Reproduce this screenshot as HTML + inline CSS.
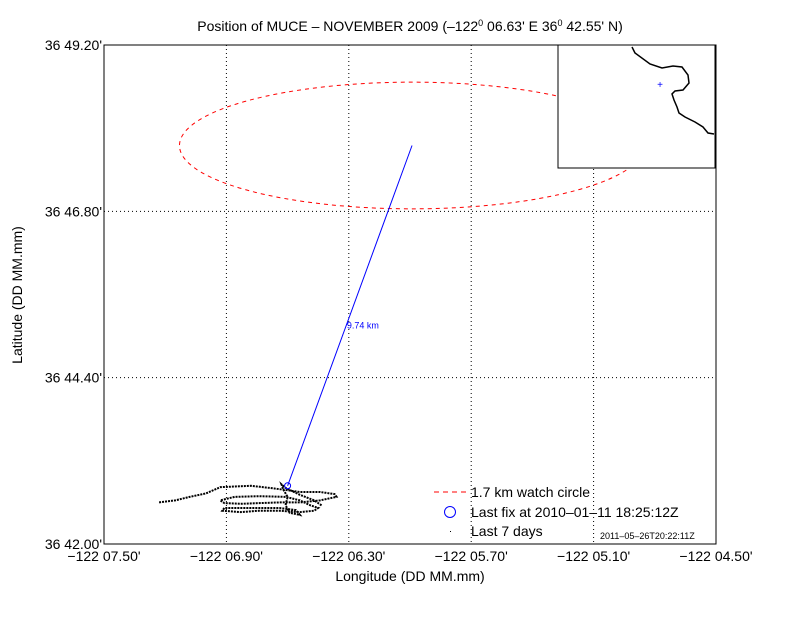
<!DOCTYPE html>
<html><head><meta charset="utf-8"><style>
body{margin:0;background:#fff}
svg{font-family:"Liberation Sans",Arial,sans-serif}
</style></head><body>
<svg id="chart" width="792" height="612" viewBox="0 0 792 612">
<rect width="792" height="612" fill="#fff"/>
<g id="grid"></g>
<g id="marks"></g>
<rect x="104" y="45" width="612" height="499" fill="none" stroke="#000"/>
<g id="ticks"></g>
<text x="410" y="31" text-anchor="middle" font-size="14">Position of MUCE – NOVEMBER 2009 (–122<tspan dy="-5" font-size="9">0</tspan><tspan dy="5"> 06.63' E  36</tspan><tspan dy="-5" font-size="9">0</tspan><tspan dy="5"> 42.55' N)</tspan></text>
<text x="410" y="581" text-anchor="middle" font-size="14">Longitude (DD MM.mm)</text>
<text x="22" y="295" text-anchor="middle" font-size="14" transform="rotate(-90 22 295)">Latitude (DD MM.mm)</text>
<g>
<rect x="558" y="45" width="157" height="123" fill="#fff" stroke="#000"/>
<polyline fill="none" stroke="#000" stroke-width="1.5" points="632,47 635,53 650,64 662,68 673,66 682,67 688,75 689,83 683,90 675,91 672,94 674,100 677,107 679,113 685,117 695,122 703,127 708,133 714,134"/>
<text x="660" y="88" text-anchor="middle" font-size="10" fill="#00f">+</text>
</g>
<g>
<line x1="434" y1="492" x2="466" y2="492" stroke="#f00" stroke-dasharray="5 4"/>
<text x="471" y="497" font-size="14">1.7 km watch circle</text>
<circle cx="450" cy="512" r="5.5" fill="none" stroke="#00f"/>
<text x="471" y="517" font-size="14">Last fix at 2010–01–11 18:25:12Z</text>
<rect x="450" y="531" width="1" height="1" fill="#000"/>
<text x="471" y="536" font-size="14">Last 7 days</text>
<text x="600" y="539" font-size="9">2011–05–26T20:22:11Z</text>
</g>
</svg>
<script>
const xTicks=[7.50,6.90,6.30,5.70,5.10,4.50];
const xTickLabels=["−122 07.50'","−122 06.90'","−122 06.30'","−122 05.70'","−122 05.10'","−122 04.50'"];
const yTicks=[42.00,44.40,46.80,49.20];
const yTickLabels=["36 42.00'","36 44.40'","36 46.80'","36 49.20'"];
const trackLon=[7.23,7.15,7.08,7.00,6.93,6.78,6.69,6.61,6.54,6.44,6.37,6.36,6.44,6.54,6.64,6.74,6.83,6.91,6.93,6.86,6.74,6.61,6.54,6.49,6.45,6.47,6.54,6.64,6.74,6.83,6.92,6.91,6.78,6.64,6.56,6.54,6.59,6.61,6.60,6.62,6.63,6.61,6.54,6.47,6.43];
const trackLat=[42.60,42.63,42.68,42.73,42.82,42.84,42.81,42.78,42.75,42.75,42.72,42.68,42.63,42.60,42.60,42.59,42.58,42.59,42.63,42.68,42.69,42.68,42.63,42.56,42.52,42.48,42.46,42.48,42.48,42.46,42.48,42.52,42.52,42.52,42.49,42.42,42.45,42.56,42.68,42.78,42.86,42.81,42.71,42.63,42.55];
const lastFix=[6.60,42.84];
const watchCenter=[5.99,47.75];
const watchRadiusLon=[1.14];
const watchRadiusLat=[0.914];
const distanceLabel=["9.74 km"];
const L=104,R=716,T=45,B=544;
function sx(m){return L+(7.50-m)/(7.50-4.50)*(R-L);}
function sy(m){return B-(m-42.00)/(49.20-42.00)*(B-T);}
const NS="http://www.w3.org/2000/svg";
function mk(t,a,p){const e=document.createElementNS(NS,t);for(const k in a)e.setAttribute(k,a[k]);p.appendChild(e);return e;}
const grid=document.getElementById('grid'),ticks=document.getElementById('ticks'),marks=document.getElementById('marks');
xTicks.forEach((v,i)=>{const x=sx(v);
 const g=mk('line',{x1:x,x2:x,y1:T,y2:B,stroke:'#000','stroke-dasharray':'1 3'},grid);
 
 
 const t=mk('text',{x:x,y:B+17,'text-anchor':'middle','font-size':14},ticks);t.textContent=xTickLabels[i];
 
 });
yTicks.forEach((v,i)=>{const y=sy(v);
 const g=mk('line',{x1:L,x2:R,y1:y,y2:y,stroke:'#000','stroke-dasharray':'1 3'},grid);
 
 
 const t=mk('text',{x:L-2,y:y+5,'text-anchor':'end','font-size':14},ticks);t.textContent=yTickLabels[i];
 
 });
const e=mk('ellipse',{cx:sx(watchCenter[0]),cy:sy(watchCenter[1]),rx:(R-L)/3*watchRadiusLon[0],ry:(B-T)/7.2*watchRadiusLat[0],fill:'none',stroke:'#f00','stroke-dasharray':'4 4'},marks);


const pts=trackLon.map((v,i)=>sx(v)+','+sy(trackLat[i])).join(' ');
const tr=mk('polyline',{points:pts,fill:'none',stroke:'#000','stroke-width':2,'stroke-dasharray':'2 1'},marks);


const ln=mk('line',{x1:sx(lastFix[0]),y1:sy(lastFix[1]),x2:sx(watchCenter[0]),y2:sy(watchCenter[1]),stroke:'#00f'},marks);


const c=mk('circle',{cx:sx(lastFix[0]),cy:sy(lastFix[1]),r:3,fill:'none',stroke:'#00f'},marks);


const dl=mk('text',{x:(sx(lastFix[0])+sx(watchCenter[0]))/2-3,y:(sy(lastFix[1])+sy(watchCenter[1]))/2+13,'font-size':9,fill:'#00f'},marks);
dl.textContent=distanceLabel[0];


</script>
</body></html>
